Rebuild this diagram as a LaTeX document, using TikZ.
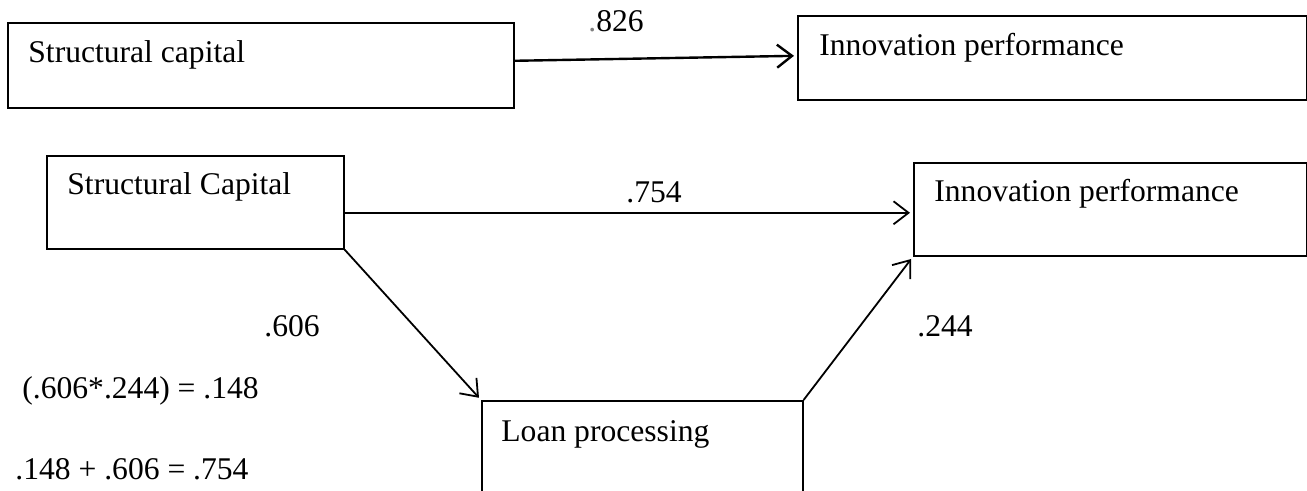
\documentclass[tikz,border=0pt]{standalone}
\usepackage{fontspec}
\setmainfont{Liberation Serif}
\usetikzlibrary{arrows.meta, calc}

\begin{document}
\begin{tikzpicture}[x=0.5pt, y=-0.5pt,
	box/.style={draw, line width=0.8pt, inner sep=0pt, anchor=north west},
	txt/.style={anchor=base west, inner sep=0pt},
	patharrow/.style={line width=0.9pt, -{Straight Barb[length=7.5pt, width=11.5pt]}, shorten >=1.5pt}]

	\path[use as bounding box, clip] (0,0) rectangle (1307,491);
	\fontsize{15.8}{19}\selectfont

	% total effect
	\node[box, minimum width=253pt, minimum height=42.5pt] (sc1) at (7,22) {};
	\node[box, minimum width=254.5pt, minimum height=42pt] (ip1) at (797,15) {};
	\node[txt] (sc1txt) at (28,63) {Structural capital};
	\node[txt] (ip1txt) at (819,56) {Innovation performance};

	\draw[patharrow, line width=1.2pt] ([yshift=2.25pt]sc1.east) -- ([yshift=1pt]ip1.west);
	\node[txt] (b826) at (588,32) {{\color{gray}.}826};

	% mediation through loan processing
	\node[box, minimum width=148.5pt, minimum height=46.5pt] (sc2) at (46,155) {};
	\node[box, minimum width=196.5pt, minimum height=46.5pt] (ip2) at (913,162) {};
	\node[box, minimum width=160.5pt, minimum height=70pt] (lp) at (481,400) {};
	\node[txt] (sc2txt) at (67,195) {Structural Capital};
	\node[txt] (ip2txt) at (934,202) {Innovation performance};
	\node[txt] (lptxt) at (501,442) {Loan processing};

	\draw[patharrow] ([yshift=-5.25pt]sc2.east) -- ([yshift=-5.25pt]sc2.east -| ip2.west);
	\draw[patharrow] (sc2.south east) -- (lp.north west);
	\draw[patharrow] (lp.north east) -- (ip2.south west);

	\node[txt] (b754) at (626,203) {.754};
	\node[txt] (b606) at (264,337) {.606};
	\node[txt] (b244) at (917,337) {.244};

	% indirect and total effect
	\node[txt] (indirect) at (22,399) {(.606*.244) = .148};
	\node[txt] (total) at (15,480) {.148 + .606 = .754};

\end{tikzpicture}
\end{document}
